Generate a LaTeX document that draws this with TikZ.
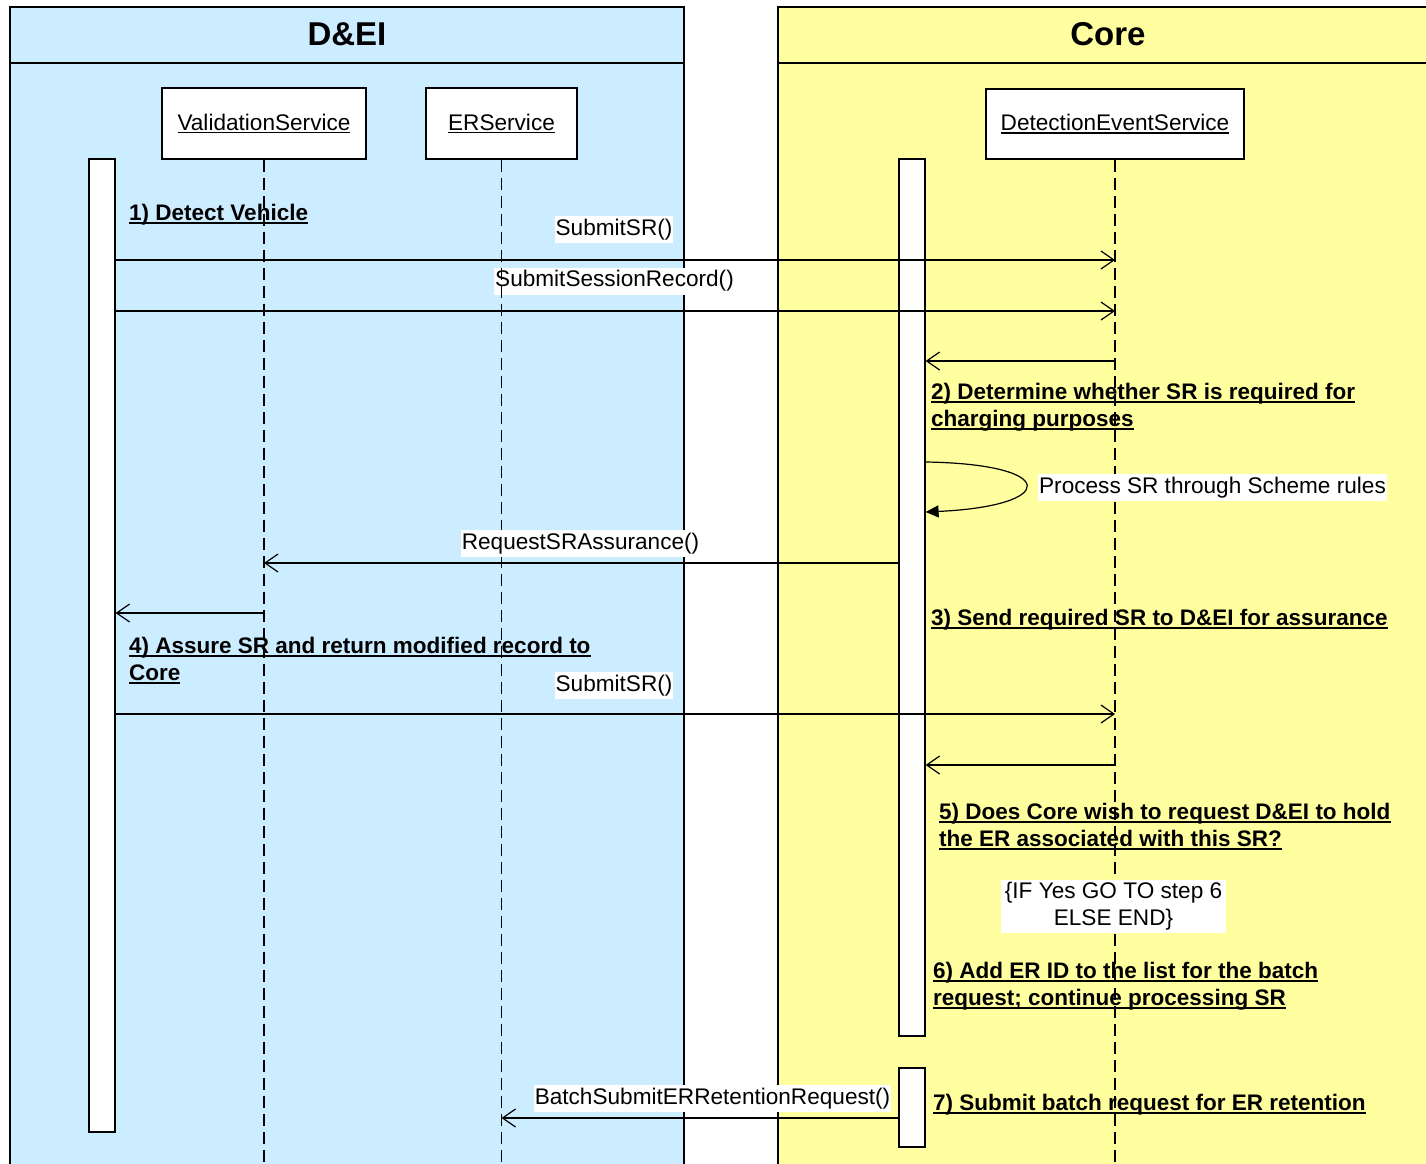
\documentclass[tikz,border=0pt]{standalone}
\usepackage{fontspec}
\setmainfont{Liberation Sans}
\usetikzlibrary{arrows.meta}

\definecolor{deiblue}{RGB}{204,236,255}
\definecolor{coreyellow}{RGB}{255,255,160}

% underlined text: bold step notes and plain participant names
\newcommand\ulbold[1]{\setbox0\hbox{#1}\rlap{\rule[-3.5pt]{\wd0}{2pt}}\box0}
\newcommand\ulplain[1]{\setbox0\hbox{#1}\rlap{\rule[-3pt]{\wd0}{1.2pt}}\box0}

\tikzset{
  lane/.style={draw=black, line width=2pt},
  lanetitle/.style={font=\bfseries\fontsize{33}{40}\selectfont},
  participant/.style={draw=black, fill=white, line width=1.2pt, inner sep=0pt,
    minimum height=71pt, font=\fontsize{22.6}{27}\selectfont},
  actbar/.style={draw=black, fill=white, line width=1.2pt, minimum width=26pt, inner sep=0pt},
  lifeline/.style={line width=1.1pt, dash pattern=on 12pt off 6pt},
  msg/.style={line width=1.2pt, -{Straight Barb[length=13pt,width=18pt,line width=1.2pt]}},
  selfmsg/.style={line width=1.2pt, -{Triangle[length=13pt,width=12pt]}},
  msglabel/.style={fill=white, inner xsep=1pt, inner ysep=3pt, text height=16pt,
    text depth=5pt, font=\fontsize{22.6}{27}\selectfont},
  stepnote/.style={anchor=north west, align=left, inner sep=0pt,
    font=\bfseries\fontsize{22.5}{27}\selectfont},
  condnote/.style={fill=white, align=center, inner sep=0pt, minimum width=225pt,
    minimum height=53pt, font=\fontsize{22.6}{27}\selectfont},
}

\begin{document}
\begin{tikzpicture}[x=1pt, y=-1pt]
\useasboundingbox (0,0) rectangle (1426,1163);
\clip (0,0) rectangle (1426,1163);

% swimlanes
\fill[deiblue] (10,7) rectangle (684,1180);
\draw[lane] (10,1180) -- (10,7) -- (684,7) -- (684,1180);
\draw[lane] (10,63) -- (684,63);
\fill[coreyellow] (778,7) rectangle (1440,1180);
\draw[lane] (778,1180) -- (778,7) -- (1440,7);
\draw[lane] (778,63) -- (1440,63);
\node[lanetitle] (deititle) at (347,34) {D\&EI};
\node[lanetitle] (coretitle) at (1108,34) {Core};

% participants
\node[participant, minimum width=204pt] (vs) at (264,123.5) {\ulplain{ValidationService}};
\node[participant, minimum width=151pt] (ers) at (501.5,123.5) {\ulplain{ERService}};
\node[participant, minimum width=258pt, minimum height=70pt] (des) at (1115,124) {\ulplain{DetectionEventService}};

\node[msglabel] (l2) at (614.5,281) {SubmitSessionRecord()};

% lifelines
\coordinate (bottom) at (0,1170);
\draw[lifeline] (vs.south) -- (vs.south |- bottom);
\draw[lifeline] (ers.south) -- (ers.south |- bottom);
\draw[lifeline] (des.south) -- (des.south |- bottom);

% activation bars
\node[actbar, minimum height=973pt] (vbar) at (102,645.5) {};
\node[actbar, minimum height=877pt] (cbar) at (912,597.5) {};
\node[actbar, minimum height=79pt] (cbar2) at (912,1107.5) {};

% messages
\draw[msg] (vbar.east |- 0,260) -- (des.south |- 0,260);
\draw[msg] (vbar.east |- 0,311) -- (des.south |- 0,311);
\draw[msg] (des.south |- 0,361) -- (cbar.east |- 0,361);
\draw[selfmsg] (cbar.east |- 0,462) .. controls (1060,464) and (1058,506) .. (cbar.east |- 0,512);
\draw[msg] (cbar.west |- 0,563) -- (vs.south |- 0,563);
\draw[msg] (vs.south |- 0,613) -- (vbar.east |- 0,613);
\draw[msg] (vbar.east |- 0,714) -- (des.south |- 0,714);
\draw[msg] (des.south |- 0,765) -- (cbar.east |- 0,765);
\draw[msg] (cbar2.west |- 0,1118) -- (ers.south |- 0,1118);

% message labels
\node[msglabel] (l1) at (614,229.5) {SubmitSR()};
\node[msglabel] (l3) at (580.5,543.5) {RequestSRAssurance()};
\node[msglabel] (l4) at (614,685.5) {SubmitSR()};
\node[msglabel] (l5) at (712.5,1098.5) {BatchSubmitERRetentionRequest()};
\node[msglabel] (l6) at (1212.5,487.5) {Process SR through Scheme rules};

% step notes
\node[stepnote] (s1) at (129,204) {\ulbold{1) Detect Vehicle}};
\node[stepnote] (s2) at (931,383) {\ulbold{2) Determine whether SR is required for}\\\ulbold{charging purposes}};
\node[stepnote] (s3) at (931,609) {\ulbold{3) Send required SR to D\&EI for assurance}};
\node[stepnote] (s4) at (129,637) {\ulbold{4) Assure SR and return modified record to}\\\ulbold{Core}};
\node[stepnote] (s5) at (939,803) {\ulbold{5) Does Core wish to request D\&EI to hold}\\\ulbold{the ER associated with this SR?}};
\node[condnote] (cond) at (1113.5,906.5) {\{IF Yes GO TO step 6\\ELSE END\}};
\node[stepnote] (s6) at (933,962) {\ulbold{6) Add ER ID to the list for the batch}\\\ulbold{request; continue processing SR}};
\node[stepnote] (s7) at (933,1094) {\ulbold{7) Submit batch request for ER retention}};
\end{tikzpicture}
\end{document}
